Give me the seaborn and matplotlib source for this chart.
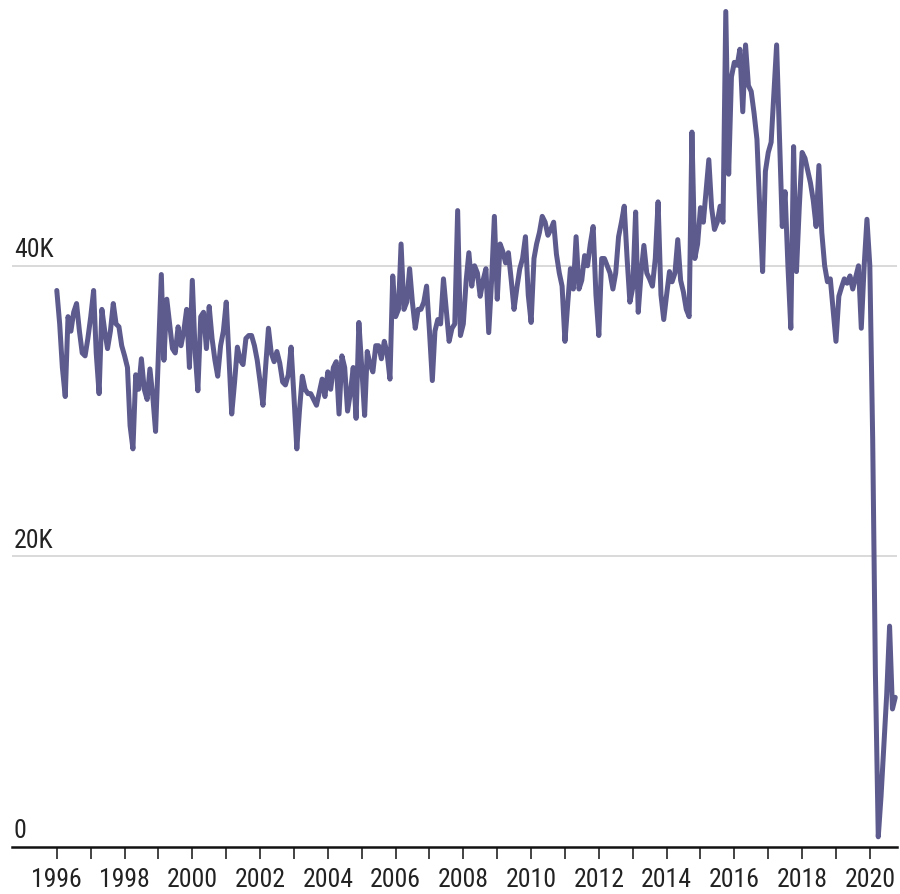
import pandas as pd
import numpy as np
import matplotlib
matplotlib.use("Agg")
import matplotlib.pyplot as plt
import matplotlib.transforms as mtransforms
from matplotlib import font_manager
import seaborn as sns

# Monthly values (thousands)
y1996 = [38.3, 36.0, 33.0, 31.0, 36.5, 35.5, 36.8, 37.4, 35.5, 34.0, 33.8, 35.0]
y1997 = [36.5, 38.3, 34.0, 31.2, 37.0, 35.5, 34.3, 35.5, 37.4, 36.0, 35.8, 34.5]
y1998 = [33.8, 33.0, 29.0, 27.4, 32.5, 31.5, 33.6, 31.5, 30.8, 32.9, 31.0, 28.6]
y1999 = [34.0, 39.4, 33.5, 37.7, 36.0, 34.3, 34.0, 35.8, 34.5, 35.5, 37.0, 33.0]
y2000 = [39.0, 34.0, 31.4, 36.5, 36.8, 34.3, 37.2, 35.0, 33.5, 32.4, 34.5, 35.5]
y2001 = [37.5, 33.5, 29.8, 32.0, 34.4, 33.5, 33.2, 35.0, 35.2, 35.2, 34.5, 33.5]
y2002 = [32.0, 30.4, 33.0, 35.7, 34.0, 33.4, 34.1, 33.3, 32.0, 31.8, 32.5, 34.4]
y2003 = [31.0, 27.4, 30.0, 32.4, 31.5, 31.2, 31.2, 30.8, 30.4, 31.3, 32.2, 31.0]
y2004 = [32.7, 31.5, 33.0, 33.4, 29.8, 33.8, 33.0, 30.0, 31.3, 33.0, 29.5, 36.1]
y2005 = [33.0, 29.7, 34.1, 33.2, 32.7, 34.5, 34.5, 33.6, 34.8, 34.0, 32.2, 39.3]
y2006 = [36.5, 37.0, 41.5, 37.0, 37.5, 39.8, 37.5, 35.7, 37.0, 37.0, 37.5, 38.6]
y2007 = [35.5, 32.1, 35.5, 36.3, 36.0, 39.1, 37.0, 34.8, 35.7, 36.0, 43.8, 35.2]
y2008 = [36.0, 39.0, 40.9, 38.6, 40.0, 39.5, 37.9, 39.0, 39.8, 35.4, 39.0, 43.4]
y2009 = [37.7, 41.5, 41.0, 40.2, 40.9, 39.0, 37.0, 38.5, 39.8, 40.5, 42.0, 38.0]
y2010 = [36.1, 40.5, 41.5, 42.3, 43.4, 43.0, 42.1, 42.5, 43.0, 40.8, 39.5, 38.6]
y2011 = [34.8, 37.5, 39.8, 38.4, 42.0, 38.4, 39.0, 40.7, 40.0, 41.5, 42.7, 38.0]
y2012 = [35.2, 40.5, 40.5, 40.0, 39.5, 38.4, 39.5, 42.0, 43.0, 44.1, 40.5, 37.5]
y2013 = [38.5, 43.7, 36.8, 39.5, 41.4, 39.5, 39.1, 38.6, 40.5, 44.4, 38.0, 36.3]
y2014 = [38.0, 39.6, 38.9, 39.5, 41.8, 39.0, 38.2, 37.0, 36.5, 49.2, 40.5, 41.5]
y2015 = [44.0, 43.0, 45.0, 47.3, 44.0, 42.5, 43.0, 44.1, 43.0, 57.5, 46.3, 53.0]
y2016 = [54.0, 53.8, 54.9, 50.6, 55.2, 52.4, 52.0, 50.5, 48.7, 44.0, 39.6, 46.5]
y2017 = [47.8, 48.5, 51.7, 55.2, 49.0, 42.7, 45.1, 40.0, 35.7, 48.2, 39.6, 44.0]
y2018 = [47.8, 47.4, 46.6, 45.7, 44.5, 42.7, 46.9, 42.3, 40.0, 38.9, 39.1, 37.0]
y2019 = [34.8, 37.9, 38.5, 39.1, 38.8, 39.3, 38.4, 39.2, 40.0, 35.7, 40.0, 43.2]
y2020 = [40.0, 28.0, 12.0, 0.7, 3.5, 7.0, 10.5, 15.2, 9.5, 10.3]

years = [y1996, y1997, y1998, y1999, y2000, y2001, y2002, y2003, y2004, y2005,
         y2006, y2007, y2008, y2009, y2010, y2011, y2012, y2013, y2014, y2015,
         y2016, y2017, y2018, y2019, y2020]
values = [v for yr in years for v in yr]

tick_years = list(range(1996, 2021))
tick_labels = [str(y) if y % 2 == 0 else "" for y in tick_years]
y_ticks = [0, 20, 40]
y_labels = ["0", "20K", "40K"]

df = pd.DataFrame({
    "date": pd.date_range("1996-01-01", periods=len(values), freq="MS"),
    "value": values,
})

sns.set_theme(style="white")
plt.rcParams["font.family"] = ["DejaVu Sans"]


# pick a narrow / condensed regular font if one is installed
def find_narrow():
    entries = [f for f in font_manager.fontManager.ttflist if f.style == "normal"]

    def regular(f):
        return f.weight in (400, "normal", "regular", "book")

    prefs = [
        lambda f: f.name == "Liberation Sans Narrow",
        lambda f: f.name == "Roboto Condensed",
        lambda f: f.name == "DejaVu Sans" and "condensed" in str(f.stretch),
        lambda f: "Condensed" in f.name or "Narrow" in f.name,
        lambda f: "condensed" in str(f.stretch),
    ]
    for p in prefs:
        hits = [f for f in entries if p(f)]
        reg = [f for f in hits if regular(f)]
        if reg:
            return reg[0].fname
        if hits:
            return hits[0].fname
    return None


fname = find_narrow()
if fname:
    tick_font = font_manager.FontProperties(fname=fname, size=18.5)
else:
    tick_font = font_manager.FontProperties(family="DejaVu Sans", stretch="condensed", size=16)

fig = plt.figure(figsize=(9, 8.95), dpi=100)
ax = fig.add_axes([12 / 900, 47 / 895, 885 / 900, 848 / 895])

# light gridlines
for v in y_ticks[1:]:
    ax.axhline(v, color="#cfcfcf", linewidth=1.1, zorder=1)

sns.lineplot(data=df, x="date", y="value", color="#5d5b8e", linewidth=3.6,
             ax=ax, zorder=3, clip_on=False)
ax.lines[-1].set_solid_joinstyle("round")
ax.lines[-1].set_solid_capstyle("round")

ax.set_xlim(pd.Timestamp("1994-09-05"), pd.Timestamp("2020-10-20"))
ax.set_ylim(0, 58.36)

ax.set_xticks(pd.to_datetime([f"{y}-01-01" for y in tick_years]))
ax.set_xticklabels(tick_labels, fontproperties=tick_font)
ax.tick_params(axis="x", bottom=True, direction="out", length=8.6, width=1.1,
               color="#111111", pad=6, labelcolor="#222222")
ax.set_yticks([])
ax.set_xlabel("")
ax.set_ylabel("")

for s in ["top", "right", "left"]:
    ax.spines[s].set_visible(False)
ax.spines["bottom"].set_color("#111111")
ax.spines["bottom"].set_linewidth(1.8)

trans = mtransforms.blended_transform_factory(ax.transAxes, ax.transData)
trans = mtransforms.offset_copy(trans, fig=fig, x=0, y=7, units="points")
for v, lab in zip(y_ticks, y_labels):
    ax.text(0.002, v, lab, transform=trans, ha="left", va="baseline",
            fontproperties=tick_font, color="#222222")

fig.savefig("out.png", dpi=100, facecolor="white")
